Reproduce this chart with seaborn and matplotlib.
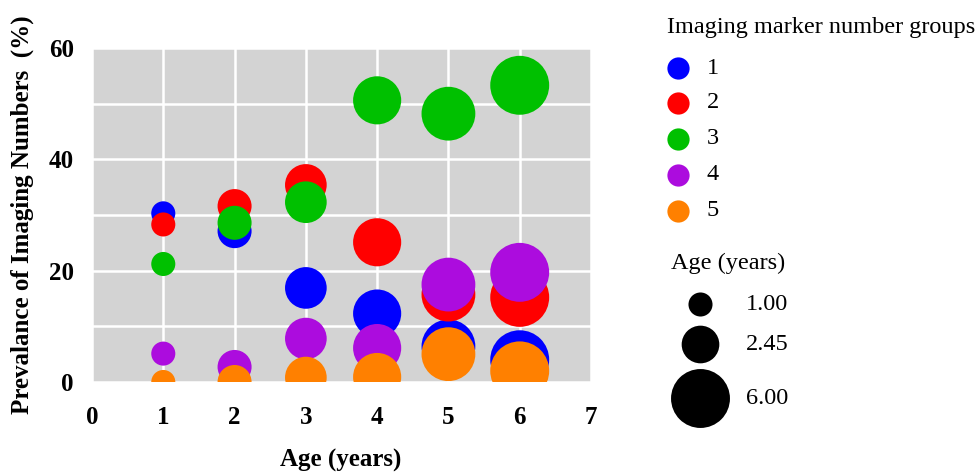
import matplotlib
matplotlib.use("Agg")
import matplotlib.pyplot as plt
from matplotlib.lines import Line2D
import seaborn as sns
import pandas as pd
import numpy as np

ages = [1, 2, 3, 4, 5, 6]
groups = ["1", "2", "3", "4", "5"]
g1 = [30.3, 27.1, 16.9, 12.3, 6.4, 4.0]
g2 = [28.3, 31.6, 35.4, 25.1, 15.7, 15.2]
g3 = [21.2, 28.6, 32.3, 50.6, 48.2, 53.3]
g4 = [5.1, 2.7, 7.8, 6.1, 17.5, 19.7]
g5 = [0.0, 0.0, 0.8, 0.9, 5.0, 2.0]
size_legend_vals = [1.00, 2.45, 6.00]
colors = ["#0000FF", "#FF0000", "#00C000", "#AC0CDE", "#FF8000"]

rows = []
for g, vals in zip(groups, [g1, g2, g3, g4, g5]):
    for a, v in zip(ages, vals):
        rows.append({"Age": a, "Prev": v, "Group": g})
df = pd.DataFrame(rows)

sns.set_style("darkgrid", {"axes.facecolor": "#D3D3D3", "grid.color": "white"})
plt.rcParams['font.family'] = ['Liberation Serif', 'DejaVu Serif']
plt.rcParams.update({"text.color": "black", "axes.labelcolor": "black",
                     "xtick.color": "black", "ytick.color": "black"})

W, H = 979, 472
fig = plt.figure(figsize=(W/100, H/100), dpi=100)
ax = fig.add_axes([92/W, 1-382/H, (591-92)/W, (382-48)/H])

S_PER_YEAR = 300
sns.scatterplot(data=df, x="Age", y="Prev", hue="Group", palette=colors,
                size="Age", sizes=(S_PER_YEAR*1, S_PER_YEAR*6), size_norm=(1, 6),
                linewidth=0, alpha=1, legend=False, ax=ax)

ax.set_xlim(0, 7)
ax.set_ylim(0, 60)
ax.set_xticks(range(0, 8))
ax.set_yticks([0, 20, 40, 60])
ax.set_yticks([10, 30, 50], minor=True)
ax.grid(True, which="both", color="white", linewidth=1.8)
ax.tick_params(axis="x", which="both", length=0, pad=17, labelsize=18, labelcolor="black")
ax.tick_params(axis="y", which="both", length=0, pad=13, labelsize=18, labelcolor="black")
for lab in ax.get_xticklabels() + ax.get_yticklabels():
    lab.set_fontweight("bold")
for s in ax.spines.values():
    s.set_visible(False)
ax.set_xlabel("Age (years)", fontsize=18, fontweight="bold", color="black")
ax.set_ylabel("Prevalance of Imaging Numbers  (%)", fontsize=18, fontweight="bold", color="black")
ax.xaxis.set_label_coords((341-92)/499, (382-449)/334)
ax.yaxis.set_label_coords((34-92)/499, 0.5)

FS = 17.5
# Color legend (hue)
fig.text(667/W, 1-27/H, "Imaging marker number groups", fontsize=FS, ha="left", va="center", color="black")
color_rows_y = [68, 103, 139, 175, 211]
for g, c, yy in zip(groups, colors, color_rows_y):
    fig.add_artist(Line2D([678/W], [1-yy/H], marker="o", linestyle="", markersize=16,
                          markerfacecolor=c, markeredgewidth=0, transform=fig.transFigure))
    fig.text(707/W, 1-yy/H, g, fontsize=FS, ha="left", va="center", color="black")

# Size legend
fig.text(671/W, 1-263/H, "Age (years)", fontsize=FS, ha="left", va="center", color="black")
size_rows_y = [304, 344, 398]
for v, yy in zip(size_legend_vals, size_rows_y):
    fig.add_artist(Line2D([700/W], [1-yy/H], marker="o", linestyle="", color="black",
                          markersize=np.sqrt(S_PER_YEAR*v), markeredgewidth=0,
                          transform=fig.transFigure))
    fig.text(746/W, 1-yy/H, f"{v:.2f}", fontsize=FS, ha="left", va="center", color="black")

fig.savefig("out.png", dpi=100)
